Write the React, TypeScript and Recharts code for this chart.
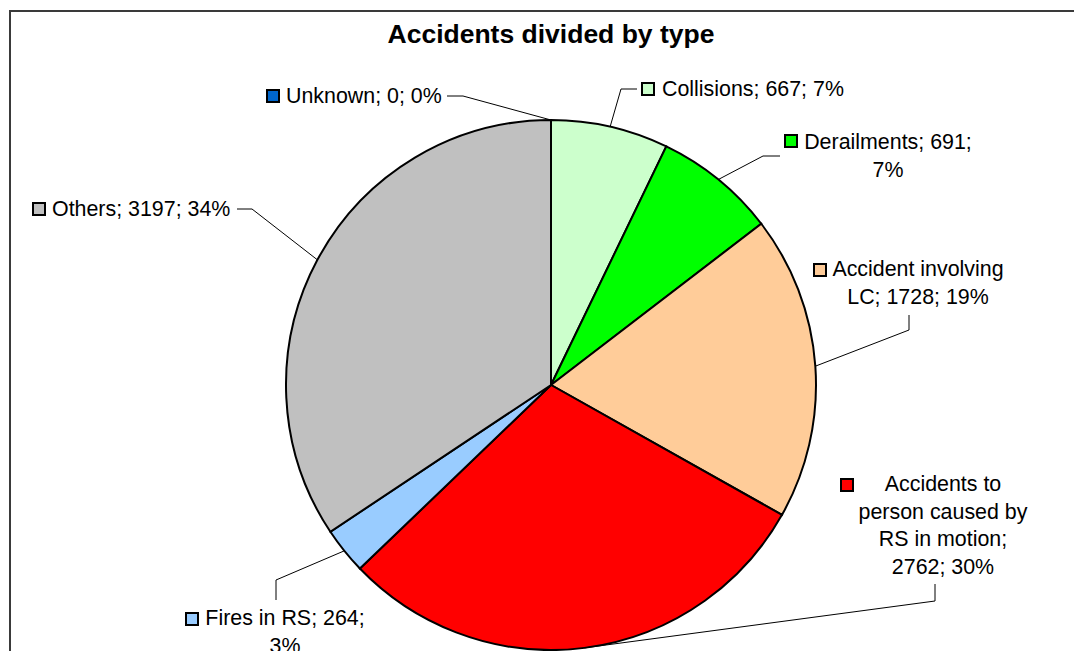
import { PieChart, Pie, Cell } from "recharts";

const categories = [
  "Collisions",
  "Derailments",
  "Accident involving LC",
  "Accidents to person caused by RS in motion",
  "Fires in RS",
  "Others",
  "Unknown",
];
const counts = [667, 691, 1728, 2762, 264, 3197, 0];
const colors = ["#CCFFCC", "#00FF00", "#FFCC99", "#FF0000", "#99CCFF", "#C0C0C0", "#0066CC"];

const data = categories.map((name, i) => ({ name, value: counts[i] }));

// where each data label sits (Excel places them by hand, more or less)
const labelLayout = [
  { sq: [641, 82], tx: 662, ty: 89, anchor: "start", wrap: 99, elbow: [621, 89], end: [637, 89] },
  { sq: [784, 134], tx: 888, ty: 142, anchor: "middle", wrap: 18, elbow: [763, 156], end: [780, 156] },
  { sq: [813, 263], tx: 918, ty: 269, anchor: "middle", wrap: 20, elbow: [909, 330], end: [909, 315] },
  { sq: [840, 478], tx: 943, ty: 484, anchor: "middle", wrap: 17, elbow: [935, 601], end: [935, 584] },
  { sq: [185, 612], tx: 285, ty: 618, anchor: "middle", wrap: 18, elbow: [276, 580], end: [276, 600] },
  { sq: [32, 202], tx: 52, ty: 209, anchor: "start", wrap: 99, elbow: [252, 209], end: [237, 209] },
  { sq: [266, 89], tx: 286, ty: 96, anchor: "start", wrap: 99, elbow: [463, 96], end: [447, 96] },
];

const FONT = "'Liberation Sans', Arial, Helvetica, sans-serif";
const RADIAN = Math.PI / 180;

function wrapText(s: string, max: number) {
  const words = s.split(" ");
  const lines: string[] = [];
  let cur = "";
  words.forEach((w) => {
    const next = cur ? cur + " " + w : w;
    if (next.length > max && cur) {
      lines.push(cur);
      cur = w;
    } else {
      cur = next;
    }
  });
  if (cur) lines.push(cur);
  return lines;
}

function renderLabel(props: any) {
  const { cx, cy, midAngle, outerRadius, index, name, value, percent } = props;
  const lay = labelLayout[index];
  if (!lay) return null;
  const ex = cx + Math.cos(-midAngle * RADIAN) * outerRadius;
  const ey = cy + Math.sin(-midAngle * RADIAN) * outerRadius;
  const text = `${name}; ${value}; ${Math.round(percent * 100)}%`;
  const lines = wrapText(text, lay.wrap);
  return (
    <g key={`lbl-${index}`}>
      <polyline
        points={`${ex},${ey} ${lay.elbow[0]},${lay.elbow[1]} ${lay.end[0]},${lay.end[1]}`}
        fill="none"
        stroke="#000"
        strokeWidth={1}
      />
      <rect
        x={lay.sq[0] + 1}
        y={lay.sq[1] + 1}
        width={12}
        height={12}
        fill={colors[index]}
        stroke="#000"
        strokeWidth={2}
      />
      <text
        x={lay.tx}
        y={lay.ty}
        textAnchor={lay.anchor as any}
        fontFamily={FONT}
        fontSize={21.4}
        fill="#000"
      >
        {lines.map((ln, i) => (
          <tspan key={i} x={lay.tx} y={lay.ty + i * 27.6} dominantBaseline="central">
            {ln}
          </tspan>
        ))}
      </text>
    </g>
  );
}

export default function App() {
  return (
    <div
      style={{
        position: "absolute",
        left: 0,
        top: 0,
        width: 1074,
        height: 651,
        overflow: "hidden",
        background: "#fff",
      }}
    >
      <svg width={1074} height={651} style={{ position: "absolute", left: 0, top: 0 }}>
        <rect x={10} y={11} width={2000} height={2000} fill="#fff" stroke="#3a3a3a" strokeWidth={2} />
        <text
          x={551}
          y={34}
          textAnchor="middle"
          dominantBaseline="central"
          fontFamily={FONT}
          fontWeight="bold"
          fontSize={26.5}
          fill="#000"
        >
          Accidents divided by type
        </text>
      </svg>
      <div style={{ position: "absolute", left: 0, top: 0 }}>
        <PieChart width={1074} height={651} margin={{ top: 0, right: 0, bottom: 0, left: 0 }}>
          <Pie
            data={data}
            dataKey="value"
            nameKey="name"
            cx={551}
            cy={385}
            outerRadius={265}
            startAngle={90}
            endAngle={-270}
            stroke="#000"
            strokeWidth={2}
            label={renderLabel}
            labelLine={false}
            isAnimationActive={false}
          >
            {data.map((d, i) => (
              <Cell key={d.name} fill={colors[i]} />
            ))}
          </Pie>
        </PieChart>
      </div>
    </div>
  );
}
